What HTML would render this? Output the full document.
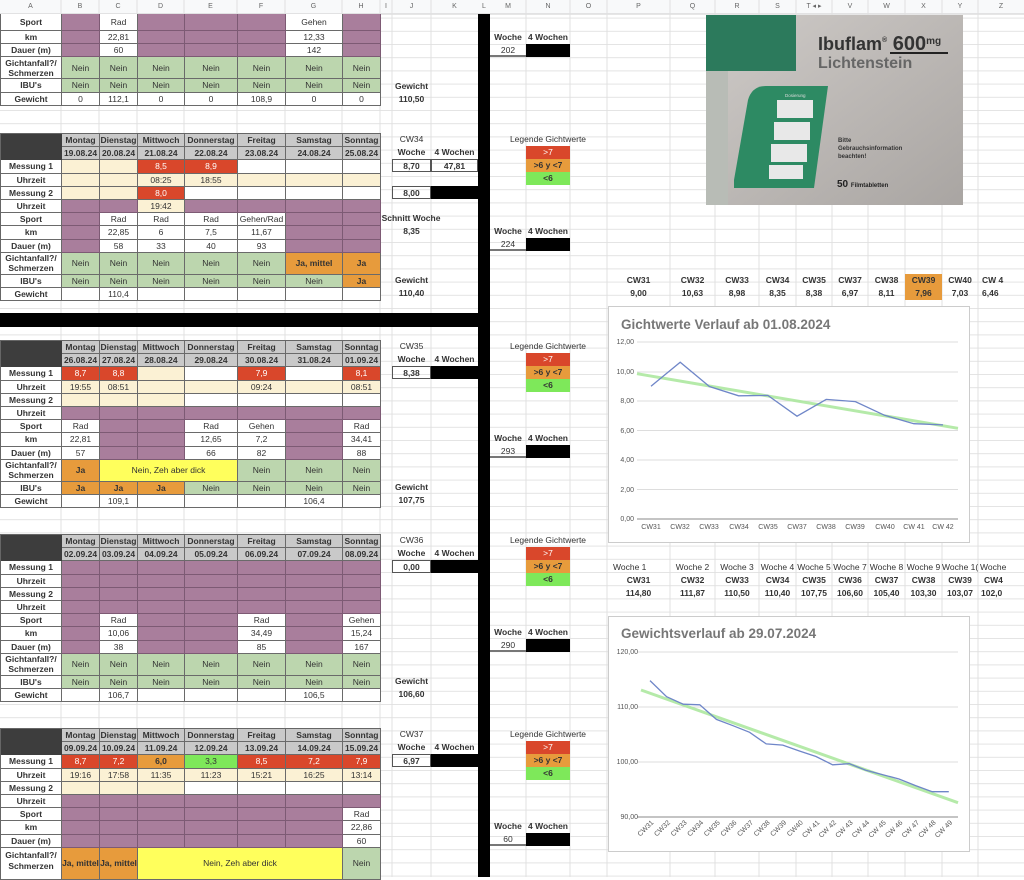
<!DOCTYPE html>
<html><head><meta charset="utf-8"><style>
*{box-sizing:border-box;margin:0;padding:0}
body{width:1024px;height:877px;overflow:hidden;position:relative;background:#fff;font-family:"Liberation Sans",sans-serif;color:#333}
.bg{position:absolute;left:0;top:0}
.g{position:absolute;left:0;display:grid;grid-template-columns:61px 38px 38px 47px 53px 48px 57px 38px;border-left:1px solid #666;border-top:1px solid #666}
.g>div{border-right:1px solid #6a6a6a;border-bottom:1px solid #6a6a6a;font-size:8.5px;display:flex;align-items:center;justify-content:center;text-align:center;line-height:10px;white-space:nowrap;overflow:hidden;background:#fff}
.g>.l{font-weight:bold;font-size:8.5px}
.g>.p{background:#a97e9c;border-color:#7d5a74}
.g>.n{background:#bcd6ae}
.g>.r{background:#d9472b;color:#fff}
.g>.o{background:#e79b3c;font-weight:bold}
.g>.c{background:#fbf1d4}
.g>.y{background:#ffff5c}
.g>.h{background:#c9c9c9;font-weight:bold;font-size:8.5px}
.g>.d{background:#3d3d3d;border-color:#3d3d3d}
.g>.b{background:#7ee85a}
.b1{grid-template-rows:17px 13.2px 13.2px 22px 13.2px 13.2px}
.bf{grid-template-rows:repeat(9,13.2px) 22px 13.2px 13.2px}
.b5{grid-template-rows:repeat(9,13.2px) 32px}
.t{position:absolute;font-size:8.5px;text-align:center;line-height:13px;height:13.2px;white-space:nowrap}
.bd{font-weight:bold}
.bx{border:1px solid #555}
.k{background:#000}
.lr{background:#d9472b;color:#fff}
.lo{background:#e79b3c;font-weight:bold}
.lg{background:#7ee85a;font-weight:bold}
.hdr{position:absolute;top:0;height:14px;font-size:7px;color:#666;text-align:center;line-height:14px}
</style></head><body>
<svg class="bg" width="1024" height="877">
<defs><pattern id="hl" width="1024" height="13.2" patternUnits="userSpaceOnUse" y="4.4"><line x1="0" y1="0.5" x2="1024" y2="0.5" stroke="#e3e3e3" stroke-width="1"/></pattern></defs>
<rect x="0" y="14" width="1024" height="863" fill="url(#hl)"/>
<rect x="0" y="0" width="1024" height="14" fill="#f8f9fa"/>
<line x1="0" y1="14" x2="1024" y2="14" stroke="#ccc"/>
<g stroke="#e0e0e0">
<line x1="61" y1="0" x2="61" y2="877"/><line x1="99" y1="0" x2="99" y2="877"/><line x1="137" y1="0" x2="137" y2="877"/><line x1="184" y1="0" x2="184" y2="877"/><line x1="237" y1="0" x2="237" y2="877"/><line x1="285" y1="0" x2="285" y2="877"/><line x1="342" y1="0" x2="342" y2="877"/><line x1="380" y1="0" x2="380" y2="877"/><line x1="392" y1="0" x2="392" y2="877"/><line x1="431" y1="0" x2="431" y2="877"/><line x1="526" y1="0" x2="526" y2="877"/><line x1="570" y1="0" x2="570" y2="877"/><line x1="607" y1="0" x2="607" y2="877"/><line x1="670" y1="0" x2="670" y2="877"/><line x1="715" y1="0" x2="715" y2="877"/><line x1="759" y1="0" x2="759" y2="877"/><line x1="796" y1="0" x2="796" y2="877"/><line x1="832" y1="0" x2="832" y2="877"/><line x1="868" y1="0" x2="868" y2="877"/><line x1="905" y1="0" x2="905" y2="877"/><line x1="942" y1="0" x2="942" y2="877"/><line x1="978" y1="0" x2="978" y2="877"/>
</g>
<rect x="0" y="313" width="478" height="14" fill="#000"/>
<rect x="478" y="14" width="12" height="863" fill="#000"/>
</svg>
<div class="hdr" style="left:0;width:61px">A</div><div class="hdr" style="left:61px;width:38px">B</div><div class="hdr" style="left:99px;width:38px">C</div><div class="hdr" style="left:137px;width:47px">D</div><div class="hdr" style="left:184px;width:53px">E</div><div class="hdr" style="left:237px;width:48px">F</div><div class="hdr" style="left:285px;width:57px">G</div><div class="hdr" style="left:342px;width:38px">H</div><div class="hdr" style="left:380px;width:12px">I</div><div class="hdr" style="left:392px;width:39px">J</div><div class="hdr" style="left:431px;width:47px">K</div><div class="hdr" style="left:478px;width:12px">L</div><div class="hdr" style="left:490px;width:36px">M</div><div class="hdr" style="left:526px;width:44px">N</div><div class="hdr" style="left:570px;width:37px">O</div><div class="hdr" style="left:607px;width:63px">P</div><div class="hdr" style="left:670px;width:45px">Q</div><div class="hdr" style="left:715px;width:44px">R</div><div class="hdr" style="left:759px;width:37px">S</div><div class="hdr" style="left:796px;width:36px">T ◂ ▸</div><div class="hdr" style="left:832px;width:36px">V</div><div class="hdr" style="left:868px;width:37px">W</div><div class="hdr" style="left:905px;width:37px">X</div><div class="hdr" style="left:942px;width:36px">Y</div><div class="hdr" style="left:978px;width:46px">Z</div>

<!-- Block 1 -->
<div class="g b1" style="top:14px;border-top:none">
<div class="l">Sport</div><div class="p"></div><div>Rad</div><div class="p"></div><div class="p"></div><div class="p"></div><div>Gehen</div><div class="p"></div>
<div class="l">km</div><div class="p"></div><div>22,81</div><div class="p"></div><div class="p"></div><div class="p"></div><div>12,33</div><div class="p"></div>
<div class="l">Dauer (m)</div><div class="p"></div><div>60</div><div class="p"></div><div class="p"></div><div class="p"></div><div>142</div><div class="p"></div>
<div class="l">Gichtanfall?/<br>Schmerzen</div><div class="n">Nein</div><div class="n">Nein</div><div class="n">Nein</div><div class="n">Nein</div><div class="n">Nein</div><div class="n">Nein</div><div class="n">Nein</div>
<div class="l">IBU's</div><div class="n">Nein</div><div class="n">Nein</div><div class="n">Nein</div><div class="n">Nein</div><div class="n">Nein</div><div class="n">Nein</div><div class="n">Nein</div>
<div class="l">Gewicht</div><div>0</div><div>112,1</div><div>0</div><div>0</div><div>108,9</div><div>0</div><div>0</div>
</div>
<div class="t bd" style="left:392px;top:80px;width:39px">Gewicht</div>
<div class="t bd" style="left:392px;top:93px;width:39px">110,50</div>
<div class="t bd" style="left:490px;top:31px;width:36px">Woche</div><div class="t bd" style="left:526px;top:31px;width:44px">4 Wochen</div>
<div class="t" style="left:490px;top:44px;width:36px;border-bottom:2px solid #777">202</div><div class="t k" style="left:526px;top:44px;width:44px"></div>

<!-- Block 2 -->
<div class="g bf" style="top:133px">
<div class="d"></div><div class="h">Montag</div><div class="h">Dienstag</div><div class="h">Mittwoch</div><div class="h">Donnerstag</div><div class="h">Freitag</div><div class="h">Samstag</div><div class="h">Sonntag</div>
<div class="d"></div><div class="h">19.08.24</div><div class="h">20.08.24</div><div class="h">21.08.24</div><div class="h">22.08.24</div><div class="h">23.08.24</div><div class="h">24.08.24</div><div class="h">25.08.24</div>
<div class="l">Messung 1</div><div class="c"></div><div class="c"></div><div class="r">8,5</div><div class="r">8,9</div><div></div><div></div><div></div>
<div class="l">Uhrzeit</div><div class="c"></div><div class="c"></div><div class="c">08:25</div><div class="c">18:55</div><div class="c"></div><div class="c"></div><div class="c"></div>
<div class="l">Messung 2</div><div class="c"></div><div class="c"></div><div class="r">8,0</div><div></div><div></div><div></div><div></div>
<div class="l">Uhrzeit</div><div class="p"></div><div class="p"></div><div class="c">19:42</div><div class="p"></div><div class="p"></div><div class="p"></div><div class="p"></div>
<div class="l">Sport</div><div class="p"></div><div>Rad</div><div>Rad</div><div>Rad</div><div>Gehen/Rad</div><div class="p"></div><div class="p"></div>
<div class="l">km</div><div class="p"></div><div>22,85</div><div>6</div><div>7,5</div><div>11,67</div><div class="p"></div><div class="p"></div>
<div class="l">Dauer (m)</div><div class="p"></div><div>58</div><div>33</div><div>40</div><div>93</div><div class="p"></div><div class="p"></div>
<div class="l">Gichtanfall?/<br>Schmerzen</div><div class="n">Nein</div><div class="n">Nein</div><div class="n">Nein</div><div class="n">Nein</div><div class="n">Nein</div><div class="o">Ja, mittel</div><div class="o">Ja</div>
<div class="l">IBU's</div><div class="n">Nein</div><div class="n">Nein</div><div class="n">Nein</div><div class="n">Nein</div><div class="n">Nein</div><div class="n">Nein</div><div class="o">Ja</div>
<div class="l">Gewicht</div><div></div><div>110,4</div><div></div><div></div><div></div><div></div><div></div>
</div>
<div class="t" style="left:392px;top:133px;width:39px">CW34</div>
<div class="t bd" style="left:392px;top:146px;width:39px">Woche</div><div class="t bd" style="left:431px;top:146px;width:47px">4 Wochen</div>
<div class="t bd bx" style="left:392px;top:159px;width:39px">8,70</div><div class="t bd bx" style="left:431px;top:159px;width:47px">47,81</div>
<div class="t bd bx" style="left:392px;top:186px;width:39px">8,00</div><div class="t k" style="left:431px;top:186px;width:47px"></div>
<div class="t bd" style="left:380px;top:212px;width:62px">Schnitt Woche</div>
<div class="t bd" style="left:392px;top:225px;width:39px">8,35</div>
<div class="t bd" style="left:392px;top:274px;width:39px">Gewicht</div>
<div class="t bd" style="left:392px;top:287px;width:39px">110,40</div>
<div class="t" style="left:500px;top:133px;width:96px">Legende Gichtwerte</div>
<div class="t lr" style="left:526px;top:146px;width:44px">&gt;7</div><div class="t lo" style="left:526px;top:159px;width:44px">&gt;6 y &lt;7</div><div class="t lg" style="left:526px;top:172px;width:44px">&lt;6</div>
<div class="t bd" style="left:490px;top:225px;width:36px">Woche</div><div class="t bd" style="left:526px;top:225px;width:44px">4 Wochen</div>
<div class="t" style="left:490px;top:238px;width:36px;border-bottom:2px solid #777">224</div><div class="t k" style="left:526px;top:238px;width:44px"></div>

<!-- Block 3 -->
<div class="g bf" style="top:340px">
<div class="d"></div><div class="h">Montag</div><div class="h">Dienstag</div><div class="h">Mittwoch</div><div class="h">Donnerstag</div><div class="h">Freitag</div><div class="h">Samstag</div><div class="h">Sonntag</div>
<div class="d"></div><div class="h">26.08.24</div><div class="h">27.08.24</div><div class="h">28.08.24</div><div class="h">29.08.24</div><div class="h">30.08.24</div><div class="h">31.08.24</div><div class="h">01.09.24</div>
<div class="l">Messung 1</div><div class="r">8,7</div><div class="r">8,8</div><div class="c"></div><div></div><div class="r">7,9</div><div></div><div class="r">8,1</div>
<div class="l">Uhrzeit</div><div class="c">19:55</div><div class="c">08:51</div><div class="c"></div><div class="c"></div><div class="c">09:24</div><div class="c"></div><div class="c">08:51</div>
<div class="l">Messung 2</div><div class="c"></div><div class="c"></div><div class="c"></div><div></div><div></div><div></div><div></div>
<div class="l">Uhrzeit</div><div class="p"></div><div class="p"></div><div class="p"></div><div class="p"></div><div class="p"></div><div class="p"></div><div class="p"></div>
<div class="l">Sport</div><div>Rad</div><div class="p"></div><div class="p"></div><div>Rad</div><div>Gehen</div><div class="p"></div><div>Rad</div>
<div class="l">km</div><div>22,81</div><div class="p"></div><div class="p"></div><div>12,65</div><div>7,2</div><div class="p"></div><div>34,41</div>
<div class="l">Dauer (m)</div><div>57</div><div class="p"></div><div class="p"></div><div>66</div><div>82</div><div class="p"></div><div>88</div>
<div class="l">Gichtanfall?/<br>Schmerzen</div><div class="o">Ja</div><div class="y" style="grid-column:span 3">Nein, Zeh aber dick</div><div class="n">Nein</div><div class="n">Nein</div><div class="n">Nein</div>
<div class="l">IBU's</div><div class="o">Ja</div><div class="o">Ja</div><div class="o">Ja</div><div class="n">Nein</div><div class="n">Nein</div><div class="n">Nein</div><div class="n">Nein</div>
<div class="l">Gewicht</div><div></div><div>109,1</div><div></div><div></div><div></div><div>106,4</div><div></div>
</div>
<div class="t" style="left:392px;top:340px;width:39px">CW35</div>
<div class="t bd" style="left:392px;top:353px;width:39px">Woche</div><div class="t bd" style="left:431px;top:353px;width:47px">4 Wochen</div>
<div class="t bd bx" style="left:392px;top:366px;width:39px">8,38</div><div class="t k" style="left:431px;top:366px;width:47px"></div>
<div class="t bd" style="left:392px;top:481px;width:39px">Gewicht</div>
<div class="t bd" style="left:392px;top:494px;width:39px">107,75</div>
<div class="t" style="left:500px;top:340px;width:96px">Legende Gichtwerte</div>
<div class="t lr" style="left:526px;top:353px;width:44px">&gt;7</div><div class="t lo" style="left:526px;top:366px;width:44px">&gt;6 y &lt;7</div><div class="t lg" style="left:526px;top:379px;width:44px">&lt;6</div>
<div class="t bd" style="left:490px;top:432px;width:36px">Woche</div><div class="t bd" style="left:526px;top:432px;width:44px">4 Wochen</div>
<div class="t" style="left:490px;top:445px;width:36px;border-bottom:2px solid #777">293</div><div class="t k" style="left:526px;top:445px;width:44px"></div>

<!-- Block 4 -->
<div class="g bf" style="top:534px">
<div class="d"></div><div class="h">Montag</div><div class="h">Dienstag</div><div class="h">Mittwoch</div><div class="h">Donnerstag</div><div class="h">Freitag</div><div class="h">Samstag</div><div class="h">Sonntag</div>
<div class="d"></div><div class="h">02.09.24</div><div class="h">03.09.24</div><div class="h">04.09.24</div><div class="h">05.09.24</div><div class="h">06.09.24</div><div class="h">07.09.24</div><div class="h">08.09.24</div>
<div class="l">Messung 1</div><div class="p"></div><div class="p"></div><div class="p"></div><div class="p"></div><div class="p"></div><div class="p"></div><div class="p"></div>
<div class="l">Uhrzeit</div><div class="p"></div><div class="p"></div><div class="p"></div><div class="p"></div><div class="p"></div><div class="p"></div><div class="p"></div>
<div class="l">Messung 2</div><div class="p"></div><div class="p"></div><div class="p"></div><div class="p"></div><div class="p"></div><div class="p"></div><div class="p"></div>
<div class="l">Uhrzeit</div><div class="p"></div><div class="p"></div><div class="p"></div><div class="p"></div><div class="p"></div><div class="p"></div><div class="p"></div>
<div class="l">Sport</div><div class="p"></div><div>Rad</div><div class="p"></div><div class="p"></div><div>Rad</div><div class="p"></div><div>Gehen</div>
<div class="l">km</div><div class="p"></div><div>10,06</div><div class="p"></div><div class="p"></div><div>34,49</div><div class="p"></div><div>15,24</div>
<div class="l">Dauer (m)</div><div class="p"></div><div>38</div><div class="p"></div><div class="p"></div><div>85</div><div class="p"></div><div>167</div>
<div class="l">Gichtanfall?/<br>Schmerzen</div><div class="n">Nein</div><div class="n">Nein</div><div class="n">Nein</div><div class="n">Nein</div><div class="n">Nein</div><div class="n">Nein</div><div class="n">Nein</div>
<div class="l">IBU's</div><div class="n">Nein</div><div class="n">Nein</div><div class="n">Nein</div><div class="n">Nein</div><div class="n">Nein</div><div class="n">Nein</div><div class="n">Nein</div>
<div class="l">Gewicht</div><div></div><div>106,7</div><div></div><div></div><div></div><div>106,5</div><div></div>
</div>
<div class="t" style="left:392px;top:534px;width:39px">CW36</div>
<div class="t bd" style="left:392px;top:547px;width:39px">Woche</div><div class="t bd" style="left:431px;top:547px;width:47px">4 Wochen</div>
<div class="t bd bx" style="left:392px;top:560px;width:39px">0,00</div><div class="t k" style="left:431px;top:560px;width:47px"></div>
<div class="t bd" style="left:392px;top:675px;width:39px">Gewicht</div>
<div class="t bd" style="left:392px;top:688px;width:39px">106,60</div>
<div class="t" style="left:500px;top:534px;width:96px">Legende Gichtwerte</div>
<div class="t lr" style="left:526px;top:547px;width:44px">&gt;7</div><div class="t lo" style="left:526px;top:560px;width:44px">&gt;6 y &lt;7</div><div class="t lg" style="left:526px;top:573px;width:44px">&lt;6</div>
<div class="t bd" style="left:490px;top:626px;width:36px">Woche</div><div class="t bd" style="left:526px;top:626px;width:44px">4 Wochen</div>
<div class="t" style="left:490px;top:639px;width:36px;border-bottom:2px solid #777">290</div><div class="t k" style="left:526px;top:639px;width:44px"></div>

<!-- Block 5 -->
<div class="g b5" style="top:728px">
<div class="d"></div><div class="h">Montag</div><div class="h">Dienstag</div><div class="h">Mittwoch</div><div class="h">Donnerstag</div><div class="h">Freitag</div><div class="h">Samstag</div><div class="h">Sonntag</div>
<div class="d"></div><div class="h">09.09.24</div><div class="h">10.09.24</div><div class="h">11.09.24</div><div class="h">12.09.24</div><div class="h">13.09.24</div><div class="h">14.09.24</div><div class="h">15.09.24</div>
<div class="l">Messung 1</div><div class="r">8,7</div><div class="r">7,2</div><div class="o">6,0</div><div class="b">3,3</div><div class="r">8,5</div><div class="r">7,2</div><div class="r">7,9</div>
<div class="l">Uhrzeit</div><div class="c">19:16</div><div class="c">17:58</div><div class="c">11:35</div><div class="c">11:23</div><div class="c">15:21</div><div class="c">16:25</div><div class="c">13:14</div>
<div class="l">Messung 2</div><div class="c"></div><div class="c"></div><div class="c"></div><div></div><div></div><div></div><div></div>
<div class="l">Uhrzeit</div><div class="p"></div><div class="p"></div><div class="p"></div><div class="p"></div><div class="p"></div><div class="p"></div><div class="p"></div>
<div class="l">Sport</div><div class="p"></div><div class="p"></div><div class="p"></div><div class="p"></div><div class="p"></div><div class="p"></div><div>Rad</div>
<div class="l">km</div><div class="p"></div><div class="p"></div><div class="p"></div><div class="p"></div><div class="p"></div><div class="p"></div><div>22,86</div>
<div class="l">Dauer (m)</div><div class="p"></div><div class="p"></div><div class="p"></div><div class="p"></div><div class="p"></div><div class="p"></div><div>60</div>
<div class="l" style="align-items:flex-start;padding-top:2px;line-height:11px">Gichtanfall?/<br>Schmerzen</div><div class="o">Ja, mittel</div><div class="o">Ja, mittel</div><div class="y" style="grid-column:span 4">Nein, Zeh aber dick</div><div class="n">Nein</div>
</div>
<div class="t" style="left:392px;top:728px;width:39px">CW37</div>
<div class="t bd" style="left:392px;top:741px;width:39px">Woche</div><div class="t bd" style="left:431px;top:741px;width:47px">4 Wochen</div>
<div class="t bd bx" style="left:392px;top:754px;width:39px">6,97</div><div class="t k" style="left:431px;top:754px;width:47px"></div>
<div class="t" style="left:500px;top:728px;width:96px">Legende Gichtwerte</div>
<div class="t lr" style="left:526px;top:741px;width:44px">&gt;7</div><div class="t lo" style="left:526px;top:754px;width:44px">&gt;6 y &lt;7</div><div class="t lg" style="left:526px;top:767px;width:44px">&lt;6</div>
<div class="t bd" style="left:490px;top:820px;width:36px">Woche</div><div class="t bd" style="left:526px;top:820px;width:44px">4 Wochen</div>
<div class="t" style="left:490px;top:833px;width:36px;border-bottom:2px solid #777">60</div><div class="t k" style="left:526px;top:833px;width:44px"></div>

<!-- CW table 1 -->
<div class="t bd" style="left:607px;top:274px;width:63px">CW31</div><div class="t bd" style="left:670px;top:274px;width:45px">CW32</div><div class="t bd" style="left:715px;top:274px;width:44px">CW33</div><div class="t bd" style="left:759px;top:274px;width:37px">CW34</div><div class="t bd" style="left:796px;top:274px;width:36px">CW35</div><div class="t bd" style="left:832px;top:274px;width:36px">CW37</div><div class="t bd" style="left:868px;top:274px;width:37px">CW38</div><div class="t bd lo" style="left:905px;top:274px;width:37px;height:26.4px">CW39</div><div class="t bd" style="left:942px;top:274px;width:36px">CW40</div><div class="t bd" style="left:978px;top:274px;width:46px;text-align:left;padding-left:4px">CW 4</div>
<div class="t bd" style="left:607px;top:287px;width:63px">9,00</div><div class="t bd" style="left:670px;top:287px;width:45px">10,63</div><div class="t bd" style="left:715px;top:287px;width:44px">8,98</div><div class="t bd" style="left:759px;top:287px;width:37px">8,35</div><div class="t bd" style="left:796px;top:287px;width:36px">8,38</div><div class="t bd" style="left:832px;top:287px;width:36px">6,97</div><div class="t bd" style="left:868px;top:287px;width:37px">8,11</div><div class="t bd" style="left:905px;top:287px;width:37px">7,96</div><div class="t bd" style="left:942px;top:287px;width:36px">7,03</div><div class="t bd" style="left:978px;top:287px;width:46px;text-align:left;padding-left:4px">6,46</div>

<!-- CW table 2 -->
<div class="t" style="left:613px;top:561px;width:57px;text-align:left">Woche 1</div><div class="t" style="left:670px;top:561px;width:45px">Woche 2</div><div class="t" style="left:715px;top:561px;width:44px">Woche 3</div><div class="t" style="left:759px;top:561px;width:37px">Woche 4</div><div class="t" style="left:796px;top:561px;width:36px">Woche 5</div><div class="t" style="left:832px;top:561px;width:36px">Woche 7</div><div class="t" style="left:868px;top:561px;width:37px">Woche 8</div><div class="t" style="left:905px;top:561px;width:37px">Woche 9</div><div class="t" style="left:942px;top:561px;width:36px;overflow:hidden">Woche 1(</div><div class="t" style="left:978px;top:561px;width:46px;text-align:left;padding-left:2px">Woche</div>
<div class="t bd" style="left:607px;top:574px;width:63px">CW31</div><div class="t bd" style="left:670px;top:574px;width:45px">CW32</div><div class="t bd" style="left:715px;top:574px;width:44px">CW33</div><div class="t bd" style="left:759px;top:574px;width:37px">CW34</div><div class="t bd" style="left:796px;top:574px;width:36px">CW35</div><div class="t bd" style="left:832px;top:574px;width:36px">CW36</div><div class="t bd" style="left:868px;top:574px;width:37px">CW37</div><div class="t bd" style="left:905px;top:574px;width:37px">CW38</div><div class="t bd" style="left:942px;top:574px;width:36px">CW39</div><div class="t bd" style="left:978px;top:574px;width:46px;text-align:left;padding-left:6px">CW4</div>
<div class="t bd" style="left:607px;top:587px;width:63px">114,80</div><div class="t bd" style="left:670px;top:587px;width:45px">111,87</div><div class="t bd" style="left:715px;top:587px;width:44px">110,50</div><div class="t bd" style="left:759px;top:587px;width:37px">110,40</div><div class="t bd" style="left:796px;top:587px;width:36px">107,75</div><div class="t bd" style="left:832px;top:587px;width:36px">106,60</div><div class="t bd" style="left:868px;top:587px;width:37px">105,40</div><div class="t bd" style="left:905px;top:587px;width:37px">103,30</div><div class="t bd" style="left:942px;top:587px;width:36px">103,07</div><div class="t bd" style="left:978px;top:587px;width:46px;text-align:left;padding-left:3px">102,0</div>

<!-- Charts -->
<svg class="bg" width="1024" height="877" style="font-family:'Liberation Sans',sans-serif">
<rect x="608.5" y="306.5" width="361" height="236" fill="#fff" stroke="#ccc"/>
<text x="621" y="329" font-size="13.5" font-weight="bold" fill="#777">Gichtwerte Verlauf ab 01.08.2024</text>
<g stroke="#ddd"><line x1="637" y1="342" x2="958" y2="342"/><line x1="637" y1="372" x2="958" y2="372"/><line x1="637" y1="401" x2="958" y2="401"/><line x1="637" y1="430.5" x2="958" y2="430.5"/><line x1="637" y1="460" x2="958" y2="460"/><line x1="637" y1="489.5" x2="958" y2="489.5"/></g>
<line x1="637" y1="519" x2="958" y2="519" stroke="#888"/>
<g font-size="7" fill="#555" text-anchor="end"><text x="634" y="344">12,00</text><text x="634" y="374">10,00</text><text x="634" y="403">8,00</text><text x="634" y="433">6,00</text><text x="634" y="462">4,00</text><text x="634" y="492">2,00</text><text x="634" y="521">0,00</text></g>
<g font-size="7" fill="#555" text-anchor="middle"><text x="651" y="529">CW31</text><text x="680" y="529">CW32</text><text x="709" y="529">CW33</text><text x="739" y="529">CW34</text><text x="768" y="529">CW35</text><text x="797" y="529">CW37</text><text x="826" y="529">CW38</text><text x="855" y="529">CW39</text><text x="885" y="529">CW40</text><text x="914" y="529">CW 41</text><text x="943" y="529">CW 42</text></g>
<line x1="637" y1="373.7" x2="958" y2="428.3" stroke="#a8e69a" stroke-width="3" stroke-opacity="0.85"/>
<polyline fill="none" stroke="#6f86c8" stroke-width="1.3" points="651,386.2 680.2,362.2 709.4,386.5 738.6,395.8 767.8,395.4 797,416.2 826.2,399.4 855.4,401.6 884.6,415.3 913.8,423.7 943,424.9"/>

<rect x="608.5" y="616.5" width="361" height="235" fill="#fff" stroke="#ccc"/>
<text x="621" y="638" font-size="13.5" font-weight="bold" fill="#777">Gewichtsverlauf ab 29.07.2024</text>
<g stroke="#ddd"><line x1="637" y1="652" x2="958" y2="652"/><line x1="637" y1="707" x2="958" y2="707"/><line x1="637" y1="762" x2="958" y2="762"/></g>
<line x1="637" y1="817" x2="958" y2="817" stroke="#888"/>
<g font-size="7" fill="#555" text-anchor="end"><text x="638" y="654">120,00</text><text x="638" y="709">110,00</text><text x="638" y="764">100,00</text><text x="638" y="819">90,00</text></g>
<g font-size="7" fill="#555" text-anchor="end">
<text transform="translate(654,823) rotate(-45)">CW31</text><text transform="translate(670.6,823) rotate(-45)">CW32</text><text transform="translate(687.2,823) rotate(-45)">CW33</text><text transform="translate(703.8,823) rotate(-45)">CW34</text><text transform="translate(720.4,823) rotate(-45)">CW35</text><text transform="translate(737,823) rotate(-45)">CW36</text><text transform="translate(753.6,823) rotate(-45)">CW37</text><text transform="translate(770.2,823) rotate(-45)">CW38</text><text transform="translate(786.8,823) rotate(-45)">CW39</text><text transform="translate(803.4,823) rotate(-45)">CW40</text><text transform="translate(820,823) rotate(-45)">CW 41</text><text transform="translate(836.6,823) rotate(-45)">CW 42</text><text transform="translate(853.2,823) rotate(-45)">CW 43</text><text transform="translate(869.8,823) rotate(-45)">CW 44</text><text transform="translate(886.4,823) rotate(-45)">CW 45</text><text transform="translate(903,823) rotate(-45)">CW 46</text><text transform="translate(919.6,823) rotate(-45)">CW 47</text><text transform="translate(936.2,823) rotate(-45)">CW 48</text><text transform="translate(952.8,823) rotate(-45)">CW 49</text></g>
<line x1="641" y1="690" x2="958" y2="802.7" stroke="#a8e69a" stroke-width="3" stroke-opacity="0.85"/>
<polyline fill="none" stroke="#6f86c8" stroke-width="1.3" points="650,680.6 666.6,696.7 683.2,704.2 699.8,704.8 716.4,719.4 733,725.7 749.6,732.3 766.2,743.9 782.8,745.1 799.4,751 816,756.5 832.6,764.8 849.2,763.7 865.8,770.2 882.4,774.6 899,779 915.6,785.6 932.2,791.7 948.8,791.7"/>

<!-- Image of medicine box -->
<defs><linearGradient id="gb" x1="0" y1="0" x2="1" y2="1"><stop offset="0" stop-color="#cfcbc8"/><stop offset="1" stop-color="#a9a5a2"/></linearGradient></defs>
<rect x="706" y="15" width="257" height="190" fill="url(#gb)"/>
<rect x="706" y="15" width="90" height="56" fill="#2c7a5c"/>
<rect x="706" y="71" width="22" height="134" fill="#b8bcb6"/>
<path d="M734,180 L748,100 Q752,86 766,86 L828,86 L814,188 L734,188 Z" fill="#2d8a63"/>
<g fill="#e8e8e8"><rect x="777" y="100" width="36" height="18"/><rect x="774" y="122" width="36" height="18"/><rect x="771" y="144" width="36" height="18"/><rect x="769" y="165" width="34" height="14"/></g>
<text x="785" y="97" font-size="4.5" fill="#ddd">Dosierung</text>
<text x="818" y="50" font-size="18" font-weight="bold" fill="#333">Ibuflam<tspan font-size="7" dy="-8">®</tspan><tspan dy="8" font-size="20"> 600</tspan><tspan font-size="10" dy="-6">mg</tspan></text>
<line x1="890" y1="53" x2="948" y2="53" stroke="#222" stroke-width="2"/>
<text x="818" y="68" font-size="16" font-weight="bold" fill="#666">Lichtenstein</text>
<text x="838" y="142" font-size="6" font-weight="bold" fill="#333">Bitte</text>
<text x="838" y="150" font-size="6" font-weight="bold" fill="#333">Gebrauchsinformation</text>
<text x="838" y="158" font-size="6" font-weight="bold" fill="#333">beachten!</text>
<text x="837" y="187" font-size="10" font-weight="bold" fill="#222">50 <tspan font-size="6">Filmtabletten</tspan></text>
</svg>
</body></html>
